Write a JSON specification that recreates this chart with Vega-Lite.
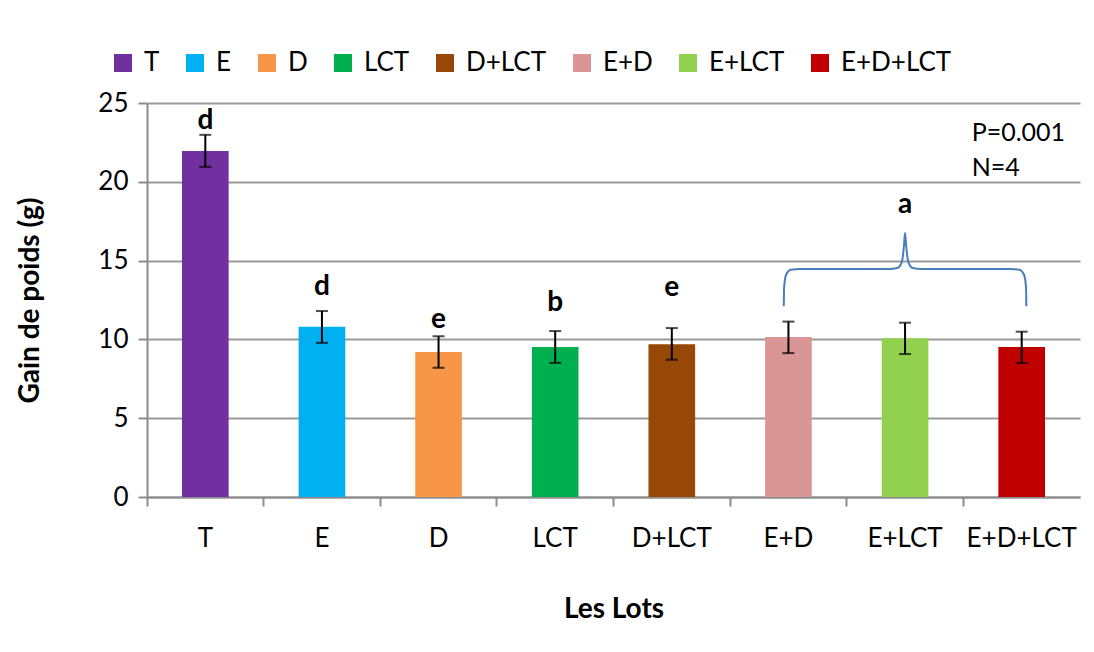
{
  "$schema": "https://vega.github.io/schema/vega-lite/v6.json",
  "autosize": {"type": "none"},
  "width": 933,
  "height": 394,
  "padding": {"left": 147, "top": 103, "right": 14, "bottom": 155},
  "background": "white",
  "config": {
    "font": "Lato",
    "view": {"stroke": null},
    "axis": {"labelFont": "Lato", "titleFont": "Lato", "labelColor": "#000", "titleColor": "#000"}
  },
  "datasets": {
    "bars": [
      {"lot": "T", "gain": 21.96, "lo": 20.95, "hi": 22.98},
      {"lot": "E", "gain": 10.8, "lo": 9.78, "hi": 11.8},
      {"lot": "D", "gain": 9.2, "lo": 8.2, "hi": 10.2},
      {"lot": "LCT", "gain": 9.51, "lo": 8.51, "hi": 10.53},
      {"lot": "D+LCT", "gain": 9.7, "lo": 8.71, "hi": 10.72},
      {"lot": "E+D", "gain": 10.15, "lo": 9.13, "hi": 11.13},
      {"lot": "E+LCT", "gain": 10.08, "lo": 9.07, "hi": 11.06},
      {"lot": "E+D+LCT", "gain": 9.51, "lo": 8.5, "hi": 10.49}
    ],
    "letters": [
      {"lot": "T", "letter": "d", "ly": 23.85},
      {"lot": "E", "letter": "d", "ly": 13.3},
      {"lot": "D", "letter": "e", "ly": 11.2},
      {"lot": "LCT", "letter": "b", "ly": 12.3},
      {"lot": "D+LCT", "letter": "e", "ly": 13.25},
      {"lot": "E+LCT", "letter": "a", "ly": 18.5}
    ],
    "notes": [
      {"lot": "E+D+LCT", "note": "P=0.001", "ny": 23.1},
      {"lot": "E+D+LCT", "note": "N=4", "ny": 20.85}
    ],
    "brace": [
      {"bx": 5.46, "by": 12.1},
      {"bx": 5.463, "by": 13.3},
      {"bx": 5.48, "by": 14.1},
      {"bx": 5.52, "by": 14.42},
      {"bx": 5.6, "by": 14.47},
      {"bx": 6.36, "by": 14.47},
      {"bx": 6.44, "by": 14.55},
      {"bx": 6.475, "by": 15.0},
      {"bx": 6.49, "by": 15.9},
      {"bx": 6.5, "by": 16.75},
      {"bx": 6.51, "by": 15.9},
      {"bx": 6.525, "by": 15.0},
      {"bx": 6.56, "by": 14.55},
      {"bx": 6.64, "by": 14.47},
      {"bx": 7.4, "by": 14.47},
      {"bx": 7.48, "by": 14.42},
      {"bx": 7.52, "by": 14.1},
      {"bx": 7.537, "by": 13.3},
      {"bx": 7.54, "by": 12.1}
    ]
  },
  "layer": [
    {
      "layer": [
        {
          "data": {"name": "bars"},
          "mark": {"type": "bar", "width": {"band": 0.4}},
          "encoding": {
            "x": {
              "field": "lot", "type": "nominal", "sort": null,
              "scale": {"paddingInner": 0, "paddingOuter": 0},
              "axis": {
                "title": "Les Lots", "titleFontSize": 28, "titleFontWeight": "bold", "titlePadding": 44,
                "labelAngle": 0, "labelFontSize": 26, "labelPadding": 19,
                "bandPosition": 0, "tickSize": 9, "tickColor": "#8c8c8c", "tickWidth": 2,
                "domainColor": "#8c8c8c", "domainWidth": 2, "grid": false
              }
            },
            "y": {
              "field": "gain", "type": "quantitative",
              "scale": {"domain": [0, 25], "nice": false},
              "axis": {
                "title": "Gain de poids (g)", "titleFontSize": 28, "titleFontWeight": "bold", "titlePadding": 53,
                "values": [0, 5, 10, 15, 20, 25], "labelFontSize": 26, "labelPadding": 10,
                "tickSize": 9, "tickColor": "#8c8c8c", "tickWidth": 2,
                "domainColor": "#8c8c8c", "domainWidth": 2,
                "grid": true, "gridColor": "#9a9a9a", "gridWidth": 2
              }
            },
            "color": {
              "field": "lot", "type": "nominal", "sort": null,
              "scale": {
                "domain": ["T", "E", "D", "LCT", "D+LCT", "E+D", "E+LCT", "E+D+LCT"],
                "range": ["#7030A0", "#00B0F0", "#F79646", "#00B050", "#974706", "#D99694", "#92D050", "#C00000"]
              },
              "legend": {
                "title": null, "orient": "none", "direction": "horizontal",
                "legendX": -37, "legendY": -53,
                "symbolType": "square", "symbolSize": 324, "symbolStrokeWidth": 0,
                "labelFontSize": 26, "labelOffset": 8, "columnPadding": 22,
                "labelFont": "Lato", "labelColor": "#000"
              }
            }
          }
        },
        {
          "data": {"name": "bars"},
          "mark": {"type": "rule", "color": "#000", "strokeWidth": 2},
          "encoding": {
            "x": {"field": "lot", "type": "nominal", "sort": null},
            "y": {"field": "lo", "type": "quantitative"},
            "y2": {"field": "hi"}
          }
        },
        {
          "data": {"name": "bars"},
          "mark": {"type": "tick", "color": "#000", "thickness": 2, "size": 12},
          "encoding": {
            "x": {"field": "lot", "type": "nominal", "sort": null},
            "y": {"field": "lo", "type": "quantitative"}
          }
        },
        {
          "data": {"name": "bars"},
          "mark": {"type": "tick", "color": "#000", "thickness": 2, "size": 12},
          "encoding": {
            "x": {"field": "lot", "type": "nominal", "sort": null},
            "y": {"field": "hi", "type": "quantitative"}
          }
        },
        {
          "data": {"name": "letters"},
          "mark": {"type": "text", "fontSize": 28, "fontWeight": "bold", "color": "#000", "baseline": "middle"},
          "encoding": {
            "x": {"field": "lot", "type": "nominal", "sort": null},
            "y": {"field": "ly", "type": "quantitative"},
            "text": {"field": "letter"}
          }
        },
        {
          "data": {"name": "notes"},
          "mark": {"type": "text", "fontSize": 25, "color": "#000", "align": "left", "baseline": "middle", "dx": -50},
          "encoding": {
            "x": {"field": "lot", "type": "nominal", "sort": null},
            "y": {"field": "ny", "type": "quantitative"},
            "text": {"field": "note"}
          }
        }
      ]
    },
    {
      "data": {"name": "brace"},
      "mark": {"type": "line", "color": "#4A7EBB", "strokeWidth": 2, "interpolate": "monotone"},
      "encoding": {
        "x": {"field": "bx", "type": "quantitative", "scale": {"domain": [0, 8], "nice": false, "zero": false}, "axis": null},
        "y": {"field": "by", "type": "quantitative"}
      }
    }
  ],
  "resolve": {"scale": {"x": "independent"}}
}
